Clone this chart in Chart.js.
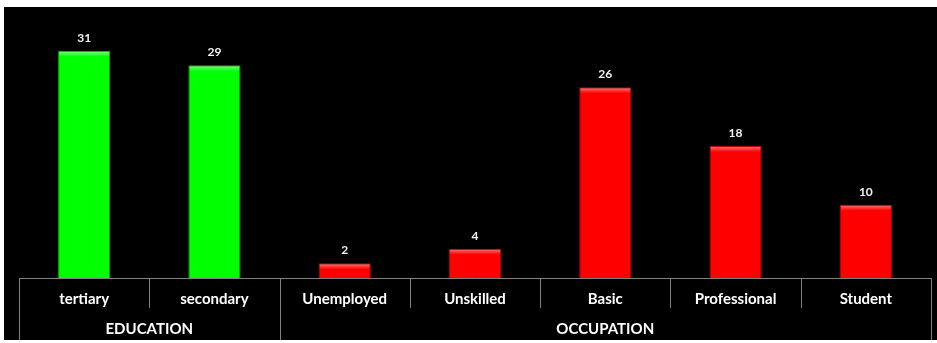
<!DOCTYPE html>
<html>
<head>
<meta charset="utf-8">
<script src="https://cdn.jsdelivr.net/npm/chart.js@4.4.1/dist/chart.umd.min.js"></script>
<style>
    html, body { margin: 0; padding: 0; background: #ffffff; }
    #wrap { position: absolute; left: 4px; top: 7px; width: 933px; height: 333px; background: #000000; }
</style>
</head>
<body>
<div id="wrap"><canvas id="surveyChart"></canvas></div>
<script>
// Categories, groups and counts
const categories = ['tertiary', 'secondary', 'Unemployed', 'Unskilled', 'Basic', 'Professional', 'Student'];
const counts = [31, 29, 2, 4, 26, 18, 10];
const groupNames = ['EDUCATION', 'OCCUPATION'];
const groupSizes = [2, 5];

const FONT = 'Lato, "Open Sans", sans-serif';
const lineGray = '#808080';

// Green for education, red for occupation
const baseColors = [];
const edgeColors = [];
const lightColors = [];
groupSizes.forEach((n, g) => {
    for (let i = 0; i < n; i++) {
        baseColors.push(g === 0 ? '#00ff00' : '#ff0000');
        edgeColors.push(g === 0 ? '#00b400' : '#c00000');
        lightColors.push(g === 0 ? '#8cff8c' : '#ff7a7a');
    }
});

// Bevelled fill: light strip along the top of each bar
function barFill(ctx) {
    const chart = ctx.chart;
    const i = ctx.dataIndex;
    if (!chart.chartArea || !chart.scales.y) return baseColors[i];
    const top = chart.scales.y.getPixelForValue(counts[i]);
    const base = chart.scales.y.getPixelForValue(0);
    const g = chart.ctx.createLinearGradient(0, top, 0, base);
    const h = base - top;
    const s = Math.min(0.9, 6 / h);
    g.addColorStop(0, lightColors[i]);
    g.addColorStop(s, baseColors[i]);
    g.addColorStop(1, baseColors[i]);
    return g;
}

// Value labels above bars
const valueLabels = {
    id: 'valueLabels',
    afterDatasetsDraw(chart) {
        const c = chart.ctx;
        const meta = chart.getDatasetMeta(0);
        c.save();
        c.fillStyle = '#f2f2f2';
        c.font = 'bold 12px ' + FONT;
        c.textAlign = 'center';
        c.textBaseline = 'middle';
        meta.data.forEach((bar, i) => {
            c.fillText(String(counts[i]), bar.x, bar.y - 13);
        });
        c.restore();
    }
};

// Two-level category axis: separators and group names
const groupAxis = {
    id: 'groupAxis',
    afterDraw(chart) {
        const c = chart.ctx;
        const x = chart.scales.x;
        const base = chart.chartArea.bottom;
        const half = (x.getPixelForValue(1) - x.getPixelForValue(0)) / 2;
        const bottom = chart.height;
        const groupEdges = [0];
        groupSizes.forEach(n => groupEdges.push(groupEdges[groupEdges.length - 1] + n));

        c.save();
        c.strokeStyle = lineGray;
        c.lineWidth = 1;
        for (let k = 0; k <= categories.length; k++) {
            const px = Math.round(x.getPixelForValue(k) - half) + 0.5;
            const long = groupEdges.includes(k);
            c.beginPath();
            c.moveTo(px, base);
            c.lineTo(px, long ? bottom : base + 30);
            c.stroke();
        }

        c.fillStyle = '#ffffff';
        c.font = 'bold 15px ' + FONT;
        c.textAlign = 'center';
        c.textBaseline = 'middle';
        groupNames.forEach((name, g) => {
            const a = x.getPixelForValue(groupEdges[g]) - half;
            const b = x.getPixelForValue(groupEdges[g + 1] - 1) + half;
            c.fillText(name, (a + b) / 2, base + 51);
        });
        c.restore();
    }
};

new Chart(document.getElementById('surveyChart'), {
    type: 'bar',
    data: {
        labels: categories,
        datasets: [{
            data: counts,
            backgroundColor: barFill,
            borderColor: edgeColors,
            borderWidth: 1,
            categoryPercentage: 1.0,
            barPercentage: 0.4
        }]
    },
    options: {
        responsive: true,
        maintainAspectRatio: false,
        animation: false,
        layout: {
            padding: { left: 15, right: 6, top: 7, bottom: 0 }
        },
        plugins: {
            legend: { display: false },
            tooltip: { enabled: false }
        },
        scales: {
            x: {
                grid: { display: false },
                border: { display: true, color: lineGray, width: 1 },
                ticks: {
                    color: '#ffffff',
                    font: { family: FONT, size: 15, weight: 'bold' },
                    padding: 4,
                    maxRotation: 0,
                    autoSkip: false
                },
                afterFit(scale) { scale.height = 62; }
            },
            y: {
                display: false,
                min: 0,
                max: 36
            }
        }
    },
    plugins: [valueLabels, groupAxis]
});
</script>
</body>
</html>
